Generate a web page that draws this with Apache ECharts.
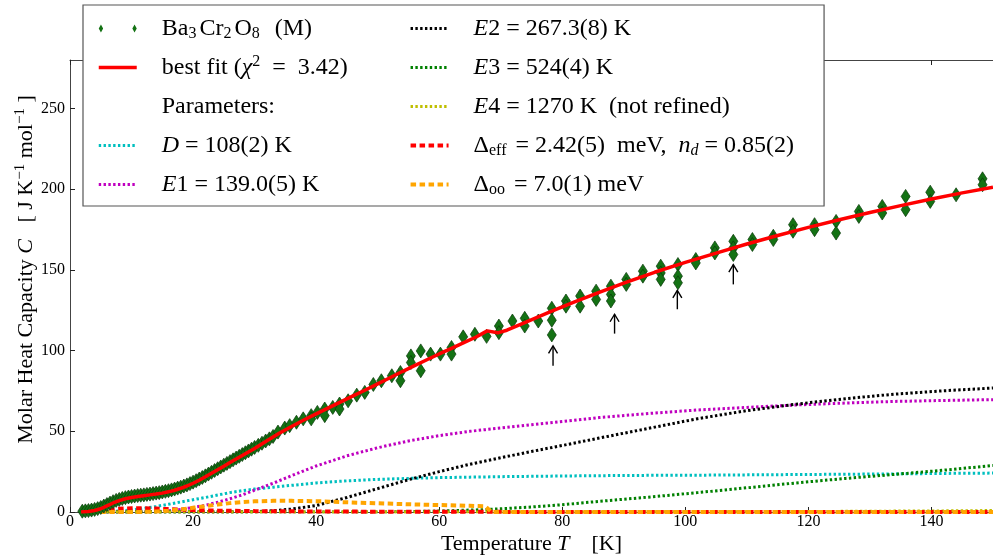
<!DOCTYPE html>
<html>
<head>
<meta charset="utf-8">
<title>Ba3Cr2O8 heat capacity</title>
<script src="https://cdn.jsdelivr.net/npm/echarts@6/dist/echarts.min.js"></script>
<style>
  html, body { margin: 0; padding: 0; background: #fff; }
  #chart { width: 993px; height: 557px; }
</style>
</head>
<body>
<div id="chart"></div>
<script>
var SERIF = 'Liberation Serif, Times New Roman, serif';

// measured points (green diamonds), T in K and C in J/K/mol
var dataT = [2.0, 2.5, 3.0, 3.5, 4.0, 4.5, 5.0, 5.5, 6.0, 6.5, 7.0, 7.5, 8.0, 8.5, 9.0, 9.5, 10.0, 10.5, 11.0, 11.5,
  12.0, 12.5, 13.0, 13.5, 14.0, 14.5, 15.0, 15.5, 16.0, 16.5, 17.0, 17.5, 18.0, 18.5, 19.0, 19.5, 20.0, 20.5, 21.0, 21.5,
  22.0, 22.5, 23.0, 23.5, 24.0, 24.5, 25.0, 25.5, 26.0, 26.5, 27.0, 27.5, 28.0, 28.5, 29.0, 29.5, 30.0, 30.6, 31.2, 31.8,
  32.4, 33.0, 33.8, 34.9, 35.7, 36.8, 37.9, 39.2, 39.2, 40.2, 41.4, 41.4, 42.7, 43.8, 43.8, 45.2, 46.6, 47.9, 49.3, 50.6,
  52.3, 53.7, 53.7, 55.4, 55.4, 57.0, 57.0, 58.6, 60.2, 62.0, 62.0, 63.9, 65.8, 67.7, 69.7, 69.7, 71.9, 73.9, 73.9, 76.1,
  78.3, 78.3, 78.3, 80.6, 80.6, 82.9, 82.9, 85.5, 85.5, 87.9, 87.9, 87.9, 90.4, 90.4, 93.1, 93.1, 96.0, 96.0, 96.0, 98.8,
  98.8, 98.8, 101.7, 101.7, 104.8, 104.8, 107.8, 107.8, 107.8, 110.9, 110.9, 114.3, 114.3, 117.5, 117.5, 121.0, 121.0, 124.5, 124.5, 128.2,
  128.2, 132.0, 132.0, 135.8, 135.8, 139.8, 139.8, 144.0, 148.3, 148.3];
var dataC = [0.5, 0.7, 0.9, 1.2, 1.6, 2.1, 2.8, 3.7, 4.6, 5.5, 6.4, 7.2, 7.8, 8.4, 8.9, 9.3, 9.6, 9.9, 10.2, 10.4,
  10.6, 10.9, 11.1, 11.4, 11.7, 12.0, 12.4, 12.8, 13.2, 13.7, 14.2, 14.8, 15.4, 16.1, 16.8, 17.6, 18.5, 19.4, 20.4, 21.4,
  22.4, 23.5, 24.6, 25.7, 26.8, 27.9, 29.0, 30.1, 31.2, 32.3, 33.4, 34.5, 35.6, 36.7, 37.8, 38.9, 40.0, 41.3, 42.6, 44.0,
  45.3, 46.8, 49.5, 52.0, 53.5, 55.6, 57.7, 59.7, 57.7, 61.7, 63.8, 59.7, 64.8, 66.9, 63.8, 68.9, 72.4, 74.1, 79.0, 81.3,
  84.4, 86.4, 81.3, 96.7, 92.6, 99.8, 87.5, 97.8, 97.8, 101.9, 97.8, 108.5, 110.1, 108.8, 115.2, 111.1, 118.3, 120.0, 115.2, 118.3,
  126.2, 118.8, 109.7, 130.7, 127.5, 133.8, 127.5, 136.8, 131.7, 139.9, 134.8, 130.7, 144.1, 141.0, 149.2, 146.1, 152.3, 148.1, 144.1, 153.3,
  146.1, 142.0, 156.4, 154.3, 163.6, 160.5, 167.7, 163.6, 159.5, 168.8, 165.7, 170.8, 168.8, 178.0, 173.9, 178.0, 174.9, 180.0, 172.8, 186.2,
  183.1, 189.3, 185.2, 195.5, 187.3, 198.1, 192.4, 196.5, 206.4, 202.7];

// best fit (red line)
var fitT = [1.8, 3, 4, 5, 6, 7, 8, 9, 10, 11, 12, 13, 14, 15, 16, 17, 18, 19, 20, 21, 22, 23, 24, 25, 26, 27, 28, 29, 30,
  32, 34, 36, 38, 40, 42, 44, 46, 48, 50, 52, 54, 56, 58, 60, 62, 64, 66, 67.8, 69.5, 71, 74, 78, 82, 86, 90, 95, 100,
  105, 110, 115, 120, 125, 130, 135, 140, 145, 150];
var fitC = [0, 0.3, 0.9, 2.0, 3.8, 5.6, 7.0, 8.2, 9.0, 9.6, 10.1, 10.6, 11.1, 11.7, 12.5, 13.5, 14.7, 16.1, 17.8, 19.7,
  21.8, 24.0, 26.2, 28.4, 30.6, 32.8, 35.0, 37.2, 39.4, 44.2, 48.8, 53.0, 57.0, 60.8, 64.5, 68.2, 71.9, 75.6, 79.4, 83.2,
  87.0, 90.7, 94.3, 97.9, 101.4, 104.9, 108.4, 112.2, 111.0, 112.6, 117.5, 124.0, 130.2, 136.1, 141.8, 148.5, 154.6,
  160.4, 166.0, 171.3, 176.3, 181.0, 185.5, 189.8, 193.9, 197.7, 201.2];

// fit components
var compT = [2, 4, 6, 8, 10, 12, 14, 16, 18, 20, 22, 24, 26, 28, 30, 33, 36, 40, 45, 50, 55, 60, 65, 67.5, 68.5, 70,
  75, 80, 86, 94, 102, 110, 118, 126, 134, 142, 150];
var compD = [0, 0, 0.2, 0.6, 1.3, 2.2, 3.4, 4.8, 6.2, 7.6, 9.0, 10.5, 12.0, 13.2, 14.2, 15.4, 16.5, 18.0, 19.3, 20.2,
  20.8, 21.3, 21.6, 21.7, 21.8, 21.9, 22.1, 22.3, 22.5, 22.7, 22.8, 23.0, 23.2, 23.4, 23.6, 23.9, 24.1];
var compE1 = [0, 0, 0, 0, 0, 0.1, 0.3, 0.8, 1.6, 2.8, 4.2, 6.0, 8.2, 10.6, 13.5, 17.8, 22.5, 28.5, 34.8, 39.8, 44.0,
  47.3, 50.0, 51.0, 51.4, 52.0, 54.0, 56.0, 58.5, 61.0, 63.2, 64.8, 66.3, 67.5, 68.5, 69.1, 69.6];
var compE2 = [0, 0, 0, 0, 0, 0, 0, 0, 0, 0, 0, 0, 0, 0, 0.2, 0.8, 1.8, 4.0, 9.0, 14.5, 20.0, 25.0, 29.6, 31.6, 32.4,
  33.6, 37.5, 41.2, 45.8, 51.8, 57.8, 62.8, 66.8, 70.2, 73.0, 75.1, 76.8];
var compE3 = [0, 0, 0, 0, 0, 0, 0, 0, 0, 0, 0, 0, 0, 0, 0, 0, 0, 0, 0, 0, 0.2, 0.6, 1.2, 1.5, 1.7, 2.0, 3.1, 4.5, 6.6,
  9.2, 12.0, 15.0, 18.0, 20.8, 23.3, 25.9, 28.8];
var compE4 = [0, 0, 0, 0, 0, 0, 0, 0, 0, 0, 0, 0, 0, 0, 0, 0, 0, 0, 0, 0, 0, 0, 0, 0, 0, 0, 0, 0, 0, 0.1, 0.15, 0.2,
  0.3, 0.4, 0.55, 0.7, 0.9];
var compDeff = [0, 0.5, 1.4, 2.0, 2.3, 2.3, 2.1, 1.8, 1.5, 1.2, 1.0, 0.85, 0.75, 0.65, 0.55, 0.45, 0.4, 0.32, 0.25,
  0.2, 0.15, 0.12, 0.1, 0.1, 0.1, 0.08, 0.06, 0.05, 0.04, 0.03, 0.02, 0.02, 0.01, 0.01, 0.01, 0, 0];
var compDoo = [0, 0, 0, 0, 0, 0.05, 0.3, 0.8, 1.6, 2.6, 3.6, 4.6, 5.5, 6.2, 6.6, 6.9, 6.9, 6.7, 6.0, 5.4, 4.8, 4.3,
  3.8, 3.5, 0, 0, 0, 0, 0, 0, 0, 0, 0, 0, 0, 0, 0];

// arrows marking the dips
var arrowT = [78.5, 88.5, 98.7, 107.8];
var arrowBase = [90.6, 110.5, 125.6, 141.0];
var arrowTip = [102.9, 122.5, 137.3, 153.3];

var legendLabels = {
  data: 'Ba{sub|3}Cr{sub|2}O{sub|8}  (M)',
  fit: 'best fit ({i|χ}{sup|2}  =  3.42)',
  params: 'Parameters:',
  D: '{i|D} = 108(2) K',
  E1: '{i|E}1 = 139.0(5) K',
  E2: '{i|E}2 = 267.3(8) K',
  E3: '{i|E}3 = 524(4) K',
  E4: '{i|E}4 = 1270 K  (not refined)',
  deff: 'Δ{sub|eff} = 2.42(5)  meV,  {i|n}{subi|d} = 0.85(2)',
  doo: 'Δ{sub|oo} = 7.0(1) meV'
};

function pairs(xs, ys) {
  return xs.map(function (x, i) { return [x, ys[i]]; });
}

function component(name, ys, color, dash, width) {
  return {
    name: name, type: 'line', data: pairs(compT, ys), z: 2,
    symbol: 'none', showSymbol: false, silent: true,
    itemStyle: { color: color },
    lineStyle: { color: color, width: width, type: dash }
  };
}

var legendRich = {
  i: { fontFamily: SERIF, fontSize: 24, lineHeight: 27, fontStyle: 'italic', color: '#000' },
  sub: { fontFamily: SERIF, fontSize: 16, lineHeight: 14, verticalAlign: 'bottom', color: '#000', padding: [0, 3, 0, 0] },
  subi: { fontFamily: SERIF, fontSize: 16, lineHeight: 14, verticalAlign: 'bottom', fontStyle: 'italic', color: '#000' },
  sup: { fontFamily: SERIF, fontSize: 16, lineHeight: 14, verticalAlign: 'top', color: '#000' }
};

var chart = echarts.init(document.getElementById('chart'));
var dotDash = [2.4, 2.4];

chart.setOption({
  animation: false,
  textStyle: { fontFamily: SERIF },
  grid: { left: 70, right: 0, top: 60, bottom: 45, outerBoundsMode: 'none' },
  legend: {
    left: 83, top: 5, orient: 'vertical', height: 217,
    itemWidth: 38, itemHeight: 9, itemGap: 12,
    padding: [10, 30, 8, 14],
    borderColor: '#555', borderWidth: 1.2, backgroundColor: '#fff',
    selectedMode: false,
    itemStyle: { opacity: 0 },
    lineStyle: { width: 'inherit' },
    textStyle: { fontFamily: SERIF, fontSize: 24, lineHeight: 27, color: '#000', padding: [0, 0, 0, 20], rich: legendRich },
    formatter: function (name) { return legendLabels[name]; },
    data: [
      { name: 'data', icon: 'path://M0,4L2.2,0L4.4,4L2.2,8ZM33.6,4L35.8,0L38,4L35.8,8Z', itemStyle: { opacity: 1, borderWidth: 0 } },
      { name: 'fit', textStyle: { padding: [0, 49, 0, 20] } },
      { name: 'params', icon: 'none' },
      'D', 'E1', 'E2', 'E3', 'E4', 'deff', 'doo'
    ]
  },
  xAxis: [{
    type: 'value', position: 'bottom', min: 0, max: 150, interval: 20,
    splitLine: { show: false },
    axisLine: { lineStyle: { color: '#444', width: 1 } },
    axisTick: { inside: true, length: 5, lineStyle: { color: '#222' } },
    axisLabel: { fontFamily: SERIF, fontSize: 16, color: '#000', margin: 2, showMaxLabel: false },
    name: 'Temperature {i|T}    [K]', nameLocation: 'middle', nameGap: 19, nameMoveOverlap: false,
    nameTextStyle: {
      fontFamily: SERIF, fontSize: 22, lineHeight: 26, color: '#000',
      rich: { i: { fontFamily: SERIF, fontSize: 22, lineHeight: 26, fontStyle: 'italic', color: '#000' } }
    }
  }, {
    type: 'value', position: 'top', min: 0, max: 150, interval: 20,
    splitLine: { show: false },
    axisLine: { lineStyle: { color: '#444', width: 1 } },
    axisTick: { inside: true, length: 5, lineStyle: { color: '#222' } },
    axisLabel: { show: false }
  }],
  yAxis: {
    type: 'value', min: 0, max: 280, interval: 50,
    splitLine: { show: false },
    axisLine: { show: true, lineStyle: { color: '#444', width: 1 } },
    axisTick: { show: true, inside: true, length: 5, lineStyle: { color: '#222' } },
    axisLabel: { fontFamily: SERIF, fontSize: 16, color: '#000', margin: 5, showMaxLabel: false },
    name: '      Molar Heat Capacity {i|C}   [ J K{sup|−1} mol{sup|−1} ]',
    nameLocation: 'middle', nameRotate: 90, nameGap: 31, nameMoveOverlap: false,
    nameTextStyle: {
      fontFamily: SERIF, fontSize: 22, lineHeight: 26, color: '#000',
      rich: {
        i: { fontFamily: SERIF, fontSize: 22, lineHeight: 26, fontStyle: 'italic', color: '#000' },
        sup: { fontFamily: SERIF, fontSize: 15, lineHeight: 14, verticalAlign: 'top', color: '#000' }
      }
    }
  },
  series: [
    component('D', compD, '#00bfbf', dotDash, 3),
    component('E1', compE1, '#bf00bf', dotDash, 3),
    component('E2', compE2, '#000000', dotDash, 3),
    component('E3', compE3, '#008000', dotDash, 3),
    component('E4', compE4, '#bfbf00', dotDash, 3),
    component('deff', compDeff, '#ff0000', [5.5, 3.5], 4),
    component('doo', compDoo, '#ffa500', [5.5, 3.5], 4),
    {
      name: 'params', type: 'line', data: [], symbol: 'none',
      itemStyle: { color: '#fff' }, lineStyle: { color: '#fff', width: 0 }
    },
    {
      name: 'data', type: 'scatter', z: 3, silent: true,
      data: pairs(dataT, dataC),
      symbol: 'diamond', symbolSize: [9, 14],
      itemStyle: { color: '#147214', borderColor: '#0a3a0a', borderWidth: 0.7, opacity: 1 }
    },
    {
      name: 'fit', type: 'line', z: 4, silent: true,
      data: pairs(fitT, fitC),
      symbol: 'none', showSymbol: false,
      itemStyle: { color: '#ff0000' },
      lineStyle: { color: '#ff0000', width: 3.5 }
    },
    {
      name: 'arrows', type: 'custom', z: 5, silent: true,
      data: arrowT.map(function (t, i) { return [t, arrowBase[i], arrowTip[i]]; }),
      encode: { x: 0, y: [1, 2] },
      renderItem: function (params, api) {
        var b = api.coord([api.value(0), api.value(1)]);
        var t = api.coord([api.value(0), api.value(2)]);
        return {
          type: 'group',
          children: [
            { type: 'line', shape: { x1: b[0], y1: b[1], x2: t[0], y2: t[1] }, style: { stroke: '#000', lineWidth: 1.4 } },
            { type: 'polyline', shape: { points: [[t[0] - 4.5, t[1] + 7.5], [t[0], t[1]], [t[0] + 4.5, t[1] + 7.5]] },
              style: { stroke: '#000', fill: null, lineWidth: 1.4 } }
          ]
        };
      }
    }
  ]
});
</script>
</body>
</html>
